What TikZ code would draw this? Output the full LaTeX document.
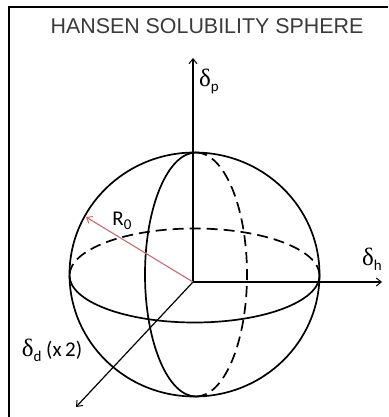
\documentclass[tikz,border=0pt]{standalone}
\usepackage{fontspec}
\setmainfont{Liberation Sans}
\newfontfamily\carlfont{Carlito}
\newfontfamily\serfont{Liberation Serif}
\usetikzlibrary{arrows.meta}
\definecolor{titlegray}{HTML}{3A3A3A}
\definecolor{rred}{HTML}{D06868}
\begin{document}
\begin{tikzpicture}[x=1pt,y=1pt,
  sph/.style={line width=1.7pt,black},
  sphdash/.style={line width=1.7pt,black,dash pattern=on 11pt off 6pt},
  axisarrow/.style={line width=1.2pt,black,-{Straight Barb[length=5pt,width=8pt,line width=1pt]}},
  lbl/.style={inner sep=0pt,text=black},
  frameline/.style={line width=2.4pt,black}]
\useasboundingbox (0,0) rectangle (388,417);
% frame (top and left only)
\coordinate (ftl) at (9,410);
\coordinate (ftr) at (388,410);
\coordinate (fbl) at (9,0);
\draw[frameline] (fbl) -- (ftl) -- (ftr);
% title
\node[inner sep=0pt,text=titlegray,font=\fontsize{21.4}{23}\selectfont] (title) at (207,391) {HANSEN SOLUBILITY SPHERE};
% key points
\coordinate (O) at (193,135);
\coordinate (Pend) at (193,359);
\coordinate (Hend) at (382,135);
\coordinate (Dend) at (76,10);
\coordinate (Rend) at (86,200);
% sphere outline
\draw[sph] (194.5,142.5) ellipse [x radius=125, y radius=122];
% equator
\draw[sphdash] (319.5,141.5) arc [start angle=0, end angle=180, x radius=125, y radius=47];
\draw[sph] (69.5,141.5) arc [start angle=180, end angle=360, x radius=125, y radius=47];
% meridian
\draw[sph] (196,264.5) arc [start angle=90, end angle=270, x radius=51, y radius=122];
\draw[sphdash] (196,20.5) arc [start angle=-90, end angle=90, x radius=51, y radius=122];
% axes
\draw[axisarrow] (O) -- (Pend);
\draw[axisarrow] (O) -- (Hend);
\draw[axisarrow] (O) -- (Dend);
\draw[line width=1.1pt,rred,-{Straight Barb[length=5pt,width=8pt,line width=1pt]}] (O) -- (Rend);
% labels
\node[lbl] (lp) at (209,336) {\fontsize{25}{26}\selectfont\serfont δ\raisebox{-5pt}{\carlfont\fontsize{15}{15}\selectfont p}};
\node[lbl] (lh) at (372,158) {\fontsize{25}{26}\selectfont\serfont δ\raisebox{-5pt}{\carlfont\fontsize{15}{15}\selectfont h}};
\node[lbl] (ld) at (52,67) {\fontsize{25}{26}\selectfont\serfont δ\raisebox{-5pt}{\carlfont\fontsize{15}{15}\selectfont d}\carlfont\fontsize{21}{22}\selectfont\ (x\,2)};
\node[lbl] (lr) at (122,196) {\carlfont\fontsize{21}{22}\selectfont R\raisebox{-4pt}{\fontsize{15}{15}\selectfont 0}};
\end{tikzpicture}
\end{document}
